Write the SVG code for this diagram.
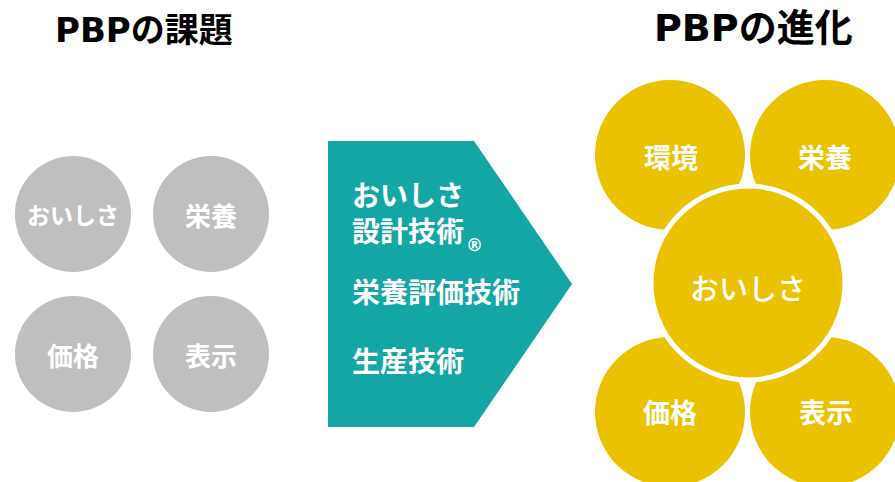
<svg xmlns="http://www.w3.org/2000/svg" width="895" height="482" viewBox="0 0 895 482">
<style>
text{font-family:"Noto Sans CJK JP","Liberation Sans",sans-serif;font-weight:bold;}
.title{fill:#000;font-family:"DejaVu Sans","Noto Sans CJK JP",sans-serif;font-size:34px;}
.gray{fill:#BFBFBF;}
.gold{fill:#EBC200;}
.wt{fill:#fff;text-anchor:middle;dominant-baseline:central;}
.g{font-size:23px;}
.k{font-size:26px;}
.y{font-size:27px;}
.tl{fill:#fff;font-size:28px;}
</style>
<rect width="895" height="482" fill="#fff"/>
<text id="title-left" class="title" x="55" y="42">PBPの課題</text>
<text id="title-right" class="title" x="654" y="41" style="font-size:38px">PBPの進化</text>

<g id="left-oishisa"><circle class="gray" cx="73" cy="214" r="58"/><text class="wt g" x="73" y="214">おいしさ</text></g>
<g id="left-eiyou"><circle class="gray" cx="211" cy="214" r="58"/><text class="wt k" x="211" y="214">栄養</text></g>
<g id="left-kakaku"><circle class="gray" cx="73" cy="354" r="58"/><text class="wt k" x="73" y="354">価格</text></g>
<g id="left-hyouji"><circle class="gray" cx="211" cy="354" r="58"/><text class="wt k" x="211" y="354">表示</text></g>

<g id="arrow">
<polygon points="328,141 474,141 572,284 474,427 328,427" fill="#13A6A4"/>
<text class="tl"><tspan x="352" y="206">おいしさ</tspan><tspan x="352" y="242">設計技術</tspan><tspan style="font-family:'DejaVu Sans',sans-serif;font-size:17px" dx="2" dy="9">®</tspan></text>
<text class="tl" x="352" y="303">栄養評価技術</text>
<text class="tl" x="352" y="372">生産技術</text>
</g>

<g id="right-kankyou"><circle class="gold" cx="670" cy="155" r="75"/><text class="wt y" x="671" y="156">環境</text></g>
<g id="right-eiyou"><circle class="gold" cx="825" cy="155" r="75"/><text class="wt y" x="825" y="156">栄養</text></g>
<g id="right-kakaku"><circle class="gold" cx="670" cy="412" r="75"/><text class="wt y" x="670" y="411">価格</text></g>
<g id="right-hyouji"><circle class="gold" cx="825" cy="412" r="75"/><text class="wt y" x="826" y="411">表示</text></g>
<g id="right-oishisa"><circle class="gold" cx="748" cy="283" r="97" stroke="#fff" stroke-width="5"/><text class="wt" x="748" y="287" style="font-size:29px;font-weight:500">おいしさ</text></g>
</svg>
